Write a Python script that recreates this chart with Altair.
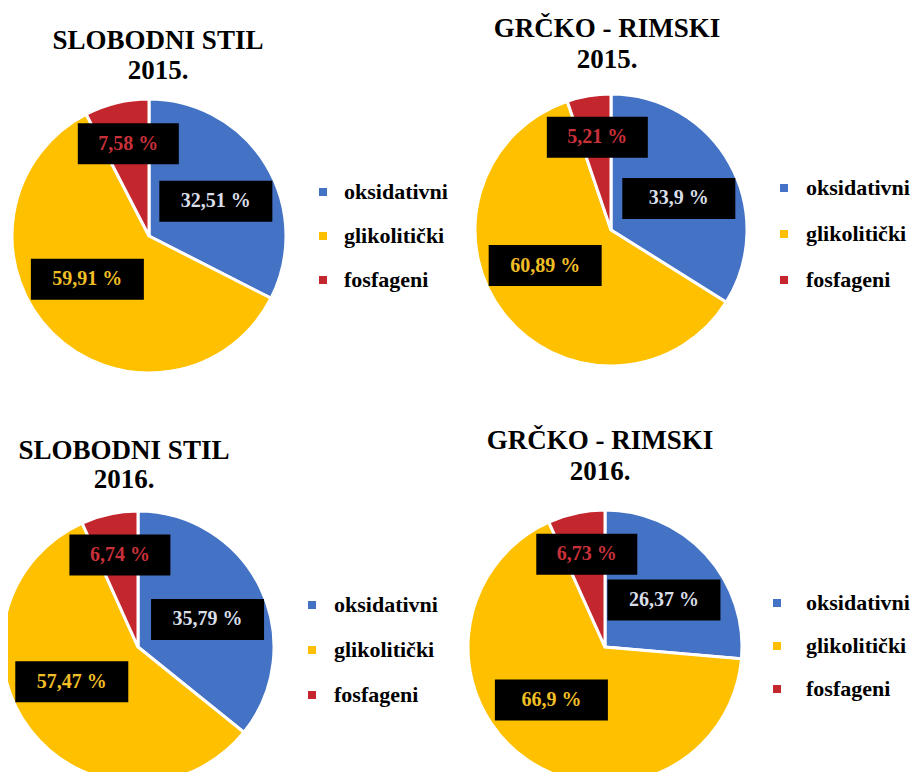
import altair as alt
import pandas as pd

# ---- data -------------------------------------------------------------
categories = ["oksidativni", "glikolitički", "fosfageni"]
slice_colors = ["#4472C4", "#FFC000", "#C4262E"]
label_colors = ["#D9DEE8", "#F0BE25", "#C8303A"]

title_line1 = ["SLOBODNI STIL", "GRČKO - RIMSKI", "SLOBODNI STIL", "GRČKO - RIMSKI"]
title_line2 = ["2015.", "2015.", "2016.", "2016."]
values_sl_2015 = [32.51, 59.91, 7.58]
values_gr_2015 = [33.9, 60.89, 5.21]
values_sl_2016 = [35.79, 57.47, 6.74]
values_gr_2016 = [26.37, 66.9, 6.73]

SERIF = "'Liberation Serif', 'Times New Roman', serif"

W, H = 904, 764
# label placement style: fraction of radius, angular nudge (deg), box width
LABEL_RF = {"oksidativni": 0.55, "glikolitički": 0.55, "fosfageni": 0.69}
LABEL_DANG = {"oksidativni": 4, "glikolitički": 10, "fosfageni": 1}
LABEL_BW = {"oksidativni": 113, "glikolitički": 113, "fosfageni": 101}
BH = 41
LEGEND_FS = 22

xs = alt.Scale(domain=[0, W], nice=False, zero=False)
ys = alt.Scale(domain=[H, 0], nice=False, zero=False)


def fmt(v):
    return f"{v:g}".replace(".", ",") + " %"


def by_cat(d):
    c0, c1, c2 = categories
    return f"(datum.cat == '{c0}' ? {d[c0]} : datum.cat == '{c1}' ? {d[c1]} : {d[c2]})"


def panel_layers(values, t1, t2, cx, cy, R, tx, tb1, tb2, sqx, sqy, rowpad, loff):
    df = pd.DataFrame({
        "cat": categories,
        "value": values,
        "idx": list(range(len(categories))),
        "label": [fmt(v) for v in values],
    })
    base = alt.Chart(df)

    pie = base.mark_arc(stroke="white", strokeWidth=3).encode(
        theta=alt.Theta("value:Q", stack=True),
        order=alt.Order("idx:Q"),
        color=alt.Color(
            "cat:N",
            scale=alt.Scale(domain=categories, range=slice_colors),
            legend=alt.Legend(
                orient="none", legendX=sqx - 12, legendY=sqy - LEGEND_FS / 2, title=None,
                symbolType="square", symbolSize=64, symbolStrokeWidth=0,
                labelFont=SERIF, labelFontWeight="bold", labelFontSize=LEGEND_FS,
                labelColor="black", labelOffset=loff, rowPadding=rowpad,
                padding=0, labelLimit=300,
            ),
        ),
        x=alt.value(cx),
        y=alt.value(cy),
        radius=alt.value(R),
    )

    lab = (
        base.transform_joinaggregate(total="sum(value)")
        .transform_window(cum="sum(value)", sort=[alt.SortField("idx")], frame=[None, 0])
        .transform_calculate(
            mid=f"(datum.cum - datum.value / 2) / datum.total * 2 * PI + {by_cat(LABEL_DANG)} * PI / 180",
            rf=by_cat(LABEL_RF),
            bw=by_cat(LABEL_BW),
        )
        .transform_calculate(
            lx=f"{cx} + sin(datum.mid) * datum.rf * {R}",
            ly=f"{cy} - cos(datum.mid) * datum.rf * {R}",
        )
        .transform_calculate(
            x1="datum.lx - datum.bw / 2",
            x2="datum.lx + datum.bw / 2",
            y1=f"datum.ly - {BH / 2}",
            y2=f"datum.ly + {BH / 2}",
        )
    )
    boxes = lab.mark_rect(color="black").encode(
        x=alt.X("x1:Q", scale=xs, axis=None),
        x2="x2:Q",
        y=alt.Y("y1:Q", scale=ys, axis=None),
        y2="y2:Q",
    )
    texts = lab.mark_text(
        font=SERIF, fontWeight="bold", fontSize=20, baseline="middle", align="center"
    ).encode(
        x=alt.X("lx:Q", scale=xs, axis=None),
        y=alt.Y("ly:Q", scale=ys, axis=None),
        text="label:N",
        fill=alt.Fill("cat:N", scale=alt.Scale(domain=categories, range=label_colors), legend=None),
    )

    ttl1 = alt.Chart(pd.DataFrame({"t": [t1]})).mark_text(
        font=SERIF, fontWeight="bold", fontSize=27, baseline="alphabetic",
        align="center", color="black",
    ).encode(text="t:N", x=alt.value(tx), y=alt.value(tb1))
    ttl2 = alt.Chart(pd.DataFrame({"t": [t2]})).mark_text(
        font=SERIF, fontWeight="bold", fontSize=27, baseline="alphabetic",
        align="center", color="black",
    ).encode(text="t:N", x=alt.value(tx), y=alt.value(tb2))

    return [pie, boxes, texts, ttl1, ttl2]


layers = []
layers += panel_layers(values_sl_2015, title_line1[0], title_line2[0],
                       141, 228, 137, 150, 41, 71, 316, 184, 22, 10)
layers += panel_layers(values_gr_2015, title_line1[1], title_line2[1],
                       603, 222, 136, 599, 29, 60, 777, 180, 24, 11)
layers += panel_layers(values_sl_2016, title_line1[2], title_line2[2],
                       130, 639, 136, 116, 451, 480, 305, 597, 23, 11)
layers += panel_layers(values_gr_2016, title_line1[3], title_line2[3],
                       597, 639, 137, 592, 441, 472, 770, 595, 21, 18)

chart = (
    alt.layer(*layers)
    .resolve_scale(color="independent", fill="independent")
    .properties(width=W, height=H, padding=0, background="white",
                autosize=alt.AutoSizeParams(type="none"))
    .configure_view(stroke=None)
)

chart.save("out.html", embed_options={"renderer": "svg", "actions": False})
